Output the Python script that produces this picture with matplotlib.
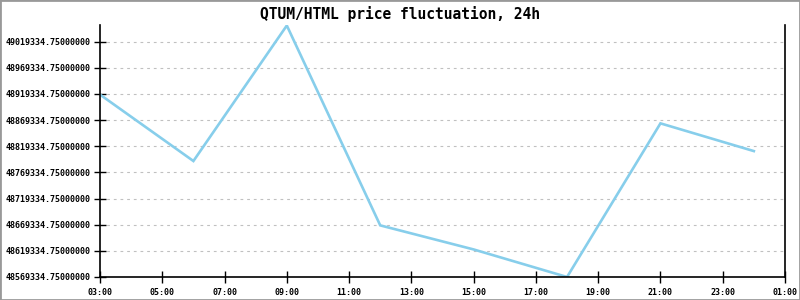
import matplotlib
matplotlib.use("Agg")
import matplotlib.pyplot as plt
from matplotlib.patches import Rectangle

title = "QTUM/HTML price fluctuation, 24h"
hours = [3, 6, 9, 12, 15, 18, 21, 24]
prices = [48918000.0, 48791000.0, 49050000.0, 48668000.0, 48622000.0,
          48569334.75, 48863000.0, 48810000.0]
x_ticks = [3, 5, 7, 9, 11, 13, 15, 17, 19, 21, 23, 25]
x_labels = ["03:00", "05:00", "07:00", "09:00", "11:00", "13:00",
            "15:00", "17:00", "19:00", "21:00", "23:00", "01:00"]
y_ticks = [48569334.75 + 50000 * i for i in range(10)]

fig = plt.figure(figsize=(8, 3), dpi=100)
ax = fig.add_axes([100 / 800, 23 / 300, 685 / 800, 252 / 300])

ax.plot(hours, prices, color="#87CEEB", linewidth=1.9, solid_joinstyle="miter")

ax.set_xlim(3, 25)
ax.set_ylim(min(prices), max(prices) + 1000)
ax.set_xticks(x_ticks)
ax.set_xticklabels(x_labels)
ax.set_yticks(y_ticks)
ax.set_yticklabels([f"{v:.8f}" for v in y_ticks])

for lab in ax.get_xticklabels() + ax.get_yticklabels():
    lab.set_fontfamily("DejaVu Sans Mono")
    lab.set_fontsize(6)
    lab.set_fontweight("bold")

ax.tick_params(axis="both", direction="inout", length=8, width=1, color="black", pad=2)
ax.tick_params(axis="y", pad=3)
ax.tick_params(axis="x", pad=4)
ax.spines["top"].set_visible(False)
for s in ("left", "bottom", "right"):
    ax.spines[s].set_linewidth(1.2)
    ax.spines[s].set_color("black")
ax.yaxis.grid(True, linestyle=(0, (2.5, 3.5)), color="#c0c0c0", linewidth=0.8)
ax.set_axisbelow(True)

fig.text(0.5, 1 - 14 / 300, title, ha="center", va="center",
         fontfamily="DejaVu Sans Mono", fontsize=10.5, fontweight="bold")

fig.patches.append(Rectangle((0, 0), 1, 1, transform=fig.transFigure,
                             fill=False, edgecolor="#999999", linewidth=2))

fig.savefig("out.png", dpi=100)
